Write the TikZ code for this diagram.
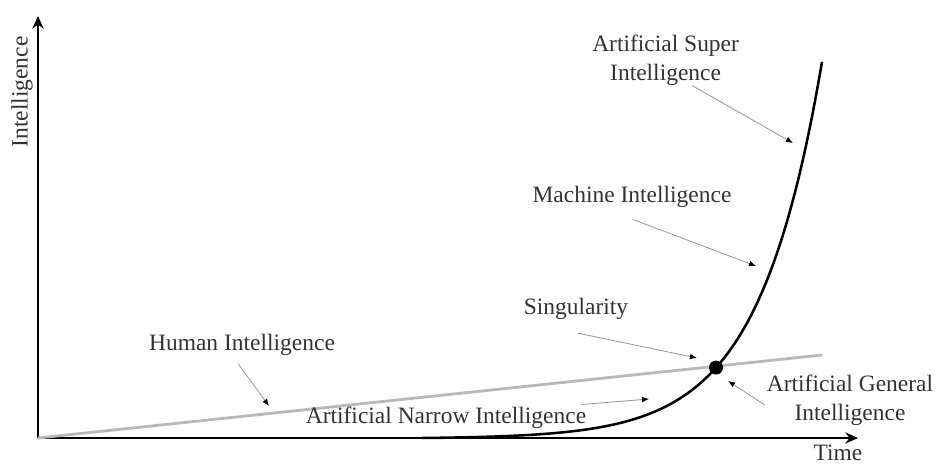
\documentclass[tikz,border=0pt]{standalone}
\usepackage{fontspec}
\setmainfont{Liberation Serif}
\usepackage{tikz}
\usetikzlibrary{arrows.meta, positioning, calc}

\tikzset{
  lbl/.style={font=\fontsize{16.7}{20.5}\selectfont, inner sep=0pt, align=center, text=black!80},
  pointer/.style={draw=gray!80, line width=0.6pt, -{Latex[black, length=5pt, width=4pt]}},
}

\begin{document}
\begin{tikzpicture}[>={Stealth[length=9pt, width=8pt]}]
  \useasboundingbox (-0.95,-0.65) rectangle (22.45,10.95);
  % Axes
  \coordinate (O) at (0,0);
  \coordinate (ytip) at (0,10.55);
  \coordinate (xtip) at (20.5,0);
  \draw[line width=1.6pt, ->] (O) -- (xtip);
  \draw[line width=1.6pt, ->] (O) -- (ytip);
  \node[lbl, rotate=90] (ylab) at (-0.4,8.65) {Intelligence};
  \node[lbl] (xlab) at (20.0,-0.36) {Time};
  % Human intelligence: slow straight rise
  \coordinate (hend) at (19.6,2.075);
  \draw[gray!55, line width=2pt] (O) -- (hend);
  % Machine intelligence: flat, then explodes
  \draw[line width=1.8pt, domain=9.6:19.6, samples=120]
    plot (\x, {1.775*exp(0.63*(\x-16.95))-0.017});
  % Singularity
  \node[circle, fill=black, inner sep=0pt, minimum size=0.35cm] (sing) at (16.95,1.76) {};
  % Labels
  \node[lbl] (asi) at (15.69,9.45) {Artificial Super\\Intelligence};
  \node[lbl] (mi) at (14.85,6.025) {Machine Intelligence};
  \node[lbl] (singlab) at (13.45,3.225) {Singularity};
  \node[lbl] (human) at (5.1,2.325) {Human Intelligence};
  \node[lbl] (ani) at (10.2,0.5) {Artificial Narrow Intelligence};
  \node[lbl] (agi) at (20.3,0.95) {Artificial General\\Intelligence};
  % Pointer tips
  \coordinate (asiTip) at (18.875,7.375);
  \coordinate (miTip) at (17.95,4.3);
  \coordinate (singTip) at (16.475,2.0);
  \coordinate (humanTip) at (5.775,0.8);
  \coordinate (aniTip) at (15.275,0.975);
  \coordinate (agiTip) at (17.25,1.425);
  % Pointers
  \draw[pointer] ($(asi.south)+(0.66,0)$) -- (asiTip);
  \draw[pointer] ($(mi.south)+(0.03,-0.29)$) -- (miTip);
  \draw[pointer] ($(singlab.south)+(0.05,-0.33)$) -- (singTip);
  \draw[pointer] ($(human.south)+(-0.1,-0.19)$) -- (humanTip);
  \draw[pointer] ($(ani.north east)+(-0.12,0.06)$) -- (aniTip);
  \draw[pointer] ($(agi.west)+(-0.05,-0.12)$) -- (agiTip);
\end{tikzpicture}
\end{document}
